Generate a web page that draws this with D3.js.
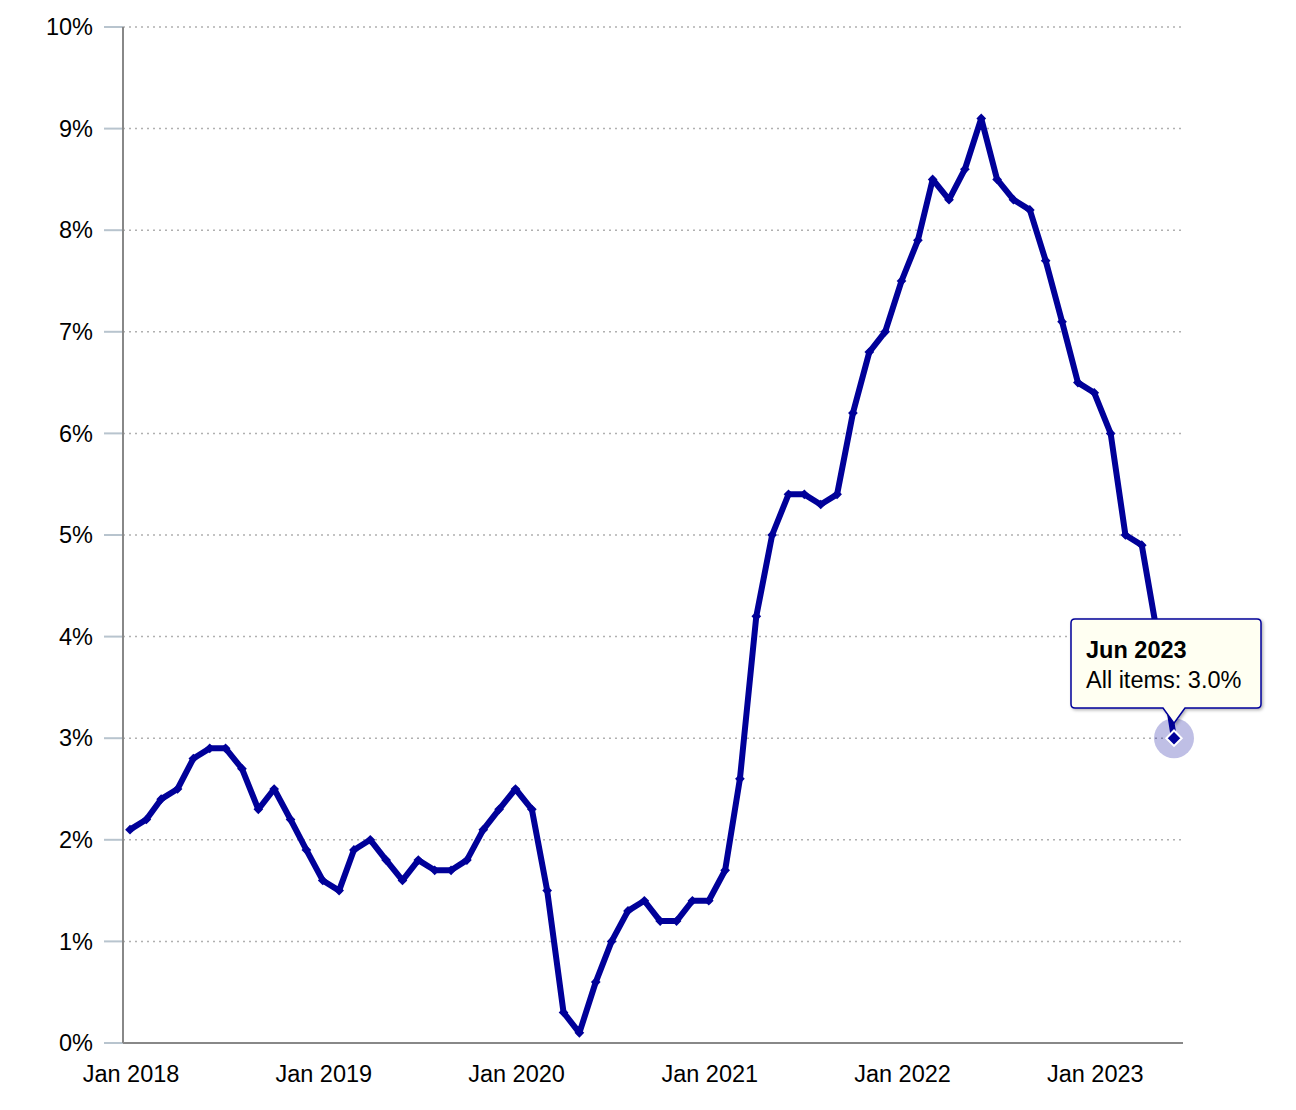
<!DOCTYPE html>
<html>
<head>
<meta charset="utf-8">
<script src="https://cdn.jsdelivr.net/npm/d3@7"></script>
<style>
  body { margin: 0; background: #fff; }
  svg { font-family: "Liberation Sans", Arial, sans-serif; }
</style>
</head>
<body>
<div id="chart"></div>
<script>
// 12-month percent change, all items
var years = [2018, 2019, 2020, 2021, 2022, 2023];
var values2018 = [2.1, 2.2, 2.4, 2.5, 2.8, 2.9, 2.9, 2.7, 2.3, 2.5, 2.2, 1.9];
var values2019 = [1.6, 1.5, 1.9, 2.0, 1.8, 1.6, 1.8, 1.7, 1.7, 1.8, 2.1, 2.3];
var values2020 = [2.5, 2.3, 1.5, 0.3, 0.1, 0.6, 1.0, 1.3, 1.4, 1.2, 1.2, 1.4];
var values2021 = [1.4, 1.7, 2.6, 4.2, 5.0, 5.4, 5.4, 5.3, 5.4, 6.2, 6.8, 7.0];
var values2022 = [7.5, 7.9, 8.5, 8.3, 8.6, 9.1, 8.5, 8.3, 8.2, 7.7, 7.1, 6.5];
var values2023 = [6.4, 6.0, 5.0, 4.9, 4.0, 3.0];
var yTicks = [0, 1, 2, 3, 4, 5, 6, 7, 8, 9, 10];
var xTickLabels = ["Jan 2018", "Jan 2019", "Jan 2020", "Jan 2021", "Jan 2022", "Jan 2023"];

var allValues = [values2018, values2019, values2020, values2021, values2022, values2023];
var data = [];
allValues.forEach(function (arr, yi) {
  arr.forEach(function (v, m) {
    data.push({ date: new Date(years[yi], m, 1), value: v });
  });
});

var width = 1296, height = 1110;
var plotLeft = 123, plotRight = 1183, plotTop = 27, plotBottom = 1043;
var color = '#000099';
var fontSize = 23.5;

var svg = d3.select('#chart').append('svg').attr('width', width).attr('height', height);

var x = d3.scaleTime()
  .domain([data[0].date, data[data.length - 1].date])
  .range([130, 1174]);
var y = d3.scaleLinear().domain([0, 10]).range([plotBottom, plotTop]);

// gridlines
svg.append('g').selectAll('line')
  .data(yTicks.slice(1))
  .enter().append('line')
  .attr('x1', plotLeft).attr('x2', plotRight)
  .attr('y1', function (d) { return y(d); })
  .attr('y2', function (d) { return y(d); })
  .attr('stroke', '#b0b0b0')
  .attr('stroke-width', 1.5)
  .attr('stroke-dasharray', '2,4');

// y tick marks + labels
var yAxis = svg.append('g');
yAxis.selectAll('line')
  .data(yTicks).enter().append('line')
  .attr('x1', 104).attr('x2', plotLeft)
  .attr('y1', function (d) { return y(d); })
  .attr('y2', function (d) { return y(d); })
  .attr('stroke', '#b8c4ce').attr('stroke-width', 2);
yAxis.selectAll('text')
  .data(yTicks).enter().append('text')
  .attr('x', 93)
  .attr('y', function (d) { return y(d); })
  .attr('dy', '0.35em')
  .attr('text-anchor', 'end')
  .attr('font-size', fontSize)
  .attr('fill', '#000')
  .text(function (d) { return d + '%'; });

// axis lines
svg.append('line').attr('x1', plotLeft).attr('x2', plotLeft)
  .attr('y1', plotTop).attr('y2', plotBottom)
  .attr('stroke', '#888').attr('stroke-width', 2);
svg.append('line').attr('x1', plotLeft).attr('x2', plotRight)
  .attr('y1', plotBottom).attr('y2', plotBottom)
  .attr('stroke', '#888').attr('stroke-width', 2);

// x labels
svg.append('g').selectAll('text')
  .data(years).enter().append('text')
  .attr('x', function (d) { return x(new Date(d, 0, 1)) + 1; })
  .attr('y', 1082)
  .attr('text-anchor', 'middle')
  .attr('font-size', fontSize)
  .attr('fill', '#000')
  .text(function (d, i) { return xTickLabels[i]; });

// line
var line = d3.line()
  .x(function (d) { return x(d.date); })
  .y(function (d) { return y(d.value); });

svg.append('path')
  .datum(data)
  .attr('d', line)
  .attr('fill', 'none')
  .attr('stroke', color)
  .attr('stroke-width', 6)
  .attr('stroke-linejoin', 'round');

// markers
var diamond = d3.symbol().type(d3.symbolDiamond2);
svg.append('g').selectAll('path')
  .data(data).enter().append('path')
  .attr('transform', function (d) { return 'translate(' + x(d.date) + ',' + y(d.value) + ')'; })
  .attr('d', diamond.size(60)())
  .attr('fill', color);

// highlighted last point
var last = data[data.length - 1];
var lx = x(last.date), ly = y(last.value);
svg.append('circle').attr('cx', lx).attr('cy', ly).attr('r', 20)
  .attr('fill', color).attr('fill-opacity', 0.25);
svg.append('path')
  .attr('transform', 'translate(' + lx + ',' + ly + ')')
  .attr('d', diamond.size(150)())
  .attr('fill', color).attr('stroke', '#fff').attr('stroke-width', 2);

// tooltip
var defs = svg.append('defs');
var f = defs.append('filter').attr('id', 'shadow').attr('x', '-10%').attr('y', '-10%').attr('width', '130%').attr('height', '140%');
f.append('feDropShadow').attr('dx', 1.5).attr('dy', 1.5).attr('stdDeviation', 1.5)
  .attr('flood-color', '#000').attr('flood-opacity', 0.3);

var bx = 1071, by = 619, bw = 190, bh = 89, r = 4;
var tipX = lx, tipY = ly - 15;
var tipPath = 'M' + (bx + r) + ',' + by +
  'H' + (bx + bw - r) + 'Q' + (bx + bw) + ',' + by + ' ' + (bx + bw) + ',' + (by + r) +
  'V' + (by + bh - r) + 'Q' + (bx + bw) + ',' + (by + bh) + ' ' + (bx + bw - r) + ',' + (by + bh) +
  'H' + (tipX + 11) + 'L' + tipX + ',' + tipY + 'L' + (tipX - 11) + ',' + (by + bh) +
  'H' + (bx + r) + 'Q' + bx + ',' + (by + bh) + ' ' + bx + ',' + (by + bh - r) +
  'V' + (by + r) + 'Q' + bx + ',' + by + ' ' + (bx + r) + ',' + by + 'Z';

var tip = svg.append('g');
tip.append('path').attr('d', tipPath)
  .attr('fill', '#fffff2').attr('stroke', color).attr('stroke-width', 1.5)
  .attr('filter', 'url(#shadow)');
tip.append('text').attr('x', bx + 15).attr('y', by + 39)
  .attr('font-size', fontSize).attr('font-weight', 'bold').attr('fill', '#000')
  .text(d3.timeFormat('%b %Y')(last.date));
tip.append('text').attr('x', bx + 15).attr('y', by + 69)
  .attr('font-size', fontSize).attr('fill', '#000')
  .text('All items: ' + last.value.toFixed(1) + '%');
</script>
</body>
</html>
